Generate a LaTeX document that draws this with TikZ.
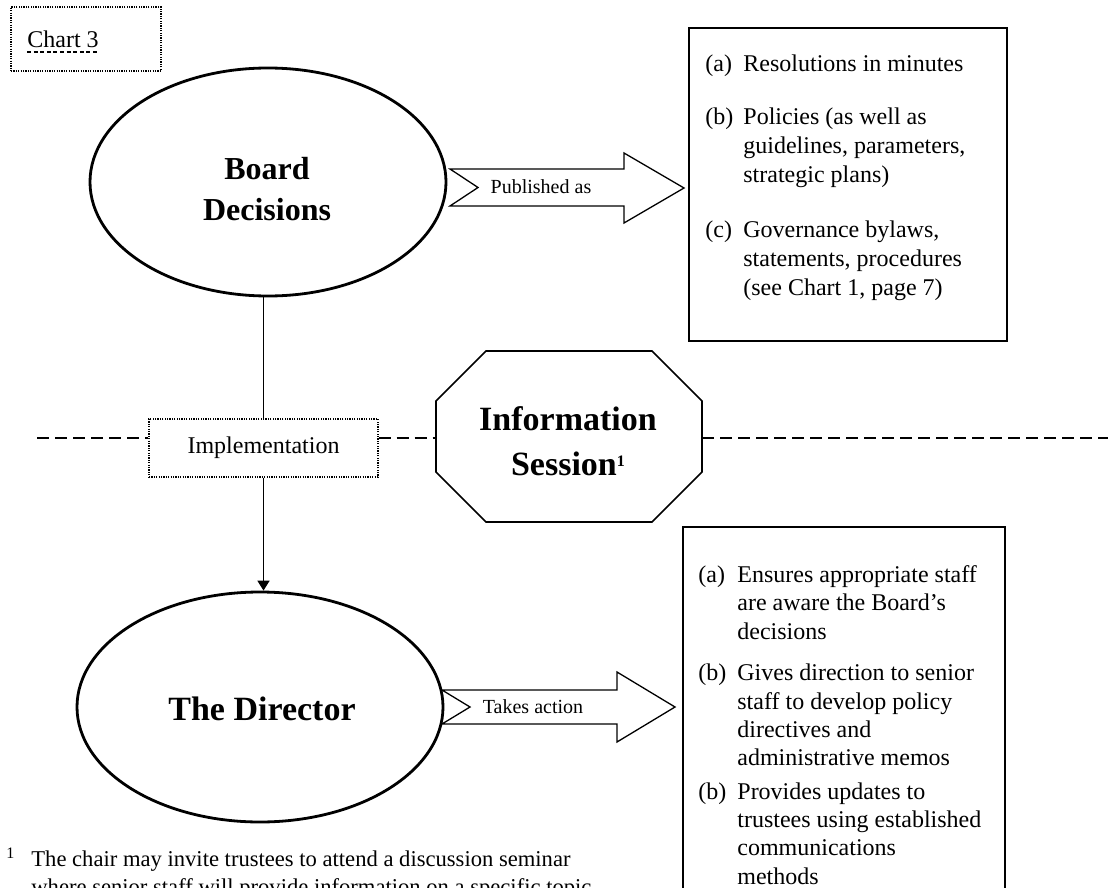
\documentclass[tikz,border=0pt]{standalone}
\usepackage{fontspec}
\setmainfont{Liberation Serif}
\usetikzlibrary{arrows.meta,shapes.geometric}
\begin{document}
\begin{tikzpicture}[x=0.5pt,y=-0.5pt,
  ell/.style={ellipse, draw, line width=1.4pt, inner sep=0pt},
  plainbox/.style={draw, line width=0.65pt, inner sep=0pt},
  dotbox/.style={draw, line width=0.6pt, dash pattern=on 0.6pt off 0.6pt, inner sep=0pt},
  blockarrow/.style={draw, line width=0.65pt, fill=white},
  octline/.style={draw, line width=0.8pt},
  dashline/.style={line width=1.2pt, dash pattern=on 6pt off 3pt},
  conn/.style={line width=0.9pt},
  title/.style={font=\fontsize{16}{20.5}\selectfont\bfseries, align=center, inner sep=0pt},
  bigtitle/.style={font=\fontsize{17}{22.5}\selectfont\bfseries, align=center, inner sep=0pt},
  small/.style={font=\fontsize{10}{12}\selectfont, inner sep=0pt},
  body/.style={font=\fontsize{12}{14}\selectfont, inner sep=0pt, anchor=base west},
  foot/.style={font=\fontsize{11.3}{14}\selectfont, inner sep=0pt, anchor=base west}
]
\useasboundingbox (0,0) rectangle (1108,888);
\clip (0,0) rectangle (1108,888);

% Chart 3 label
\node[dotbox, minimum width=75pt, minimum height=32pt] (chartbox) at (86,39) {};
\node[body] (charttxt) at (27,48) {Chart 3};
\draw[line width=0.6pt, dash pattern=on 2pt off 1.3pt] ([yshift=-2pt]charttxt.base west) -- ([yshift=-2pt]charttxt.base east);

% Board decisions
\node[ell, minimum width=178pt, minimum height=114pt] (board) at (268,182) {};
\node[title] (boardtxt) at (267,189) {Board\\Decisions};

% Published as arrow
\draw[blockarrow] (450,169) -- (624,169) -- (624,153) -- (684,188) -- (624,223) -- (624,206) -- (450,206) -- (478,187.5) -- cycle;
\node[small] (pubtxt) at (541,187) {Published as};

% Top right box
\node[plainbox, minimum width=159pt, minimum height=156.5pt] (pubbox) at (848,184.5) {};
\node[body] (pa) at (705,72) {(a)};
\node[body] (pa1) at (743,72) {Resolutions in minutes};
\node[body] (pb) at (705,125) {(b)};
\node[body] (pb1) at (743,125) {Policies (as well as};
\node[body] (pb2) at (743,154) {guidelines, parameters,};
\node[body] (pb3) at (743,183) {strategic plans)};
\node[body] (pc) at (705,237) {(c)};
\node[body] (pc1) at (743,237) {Governance bylaws,};
\node[body] (pc2) at (743,266) {statements, procedures};
\node[body] (pc3) at (743,295) {(see Chart 1, page 7)};

% Information session octagon
\draw[octline] (486,351) -- (652,351) -- (702,401) -- (702,472) -- (652,522) -- (486,522) -- (436,472) -- (436,401) -- cycle;
\coordinate (octL) at (436,438);
\coordinate (octR) at (702,438);
\node[bigtitle] (infotxt) at (568,441) {Information\\Session\raisebox{0.55ex}{\fontsize{8}{8}\selectfont 1}};

% Implementation
\node[dotbox, minimum width=114.5pt, minimum height=29pt, font=\fontsize{12}{14}\selectfont] (impl) at (263.5,448) {\raisebox{-1.5pt}{Implementation}};

% dashed line
\coordinate (dashL) at (37,438);
\coordinate (dashR) at (1112,438);
\draw[dashline] (dashL) -- (dashL -| impl.west);
\draw[dashline] (dashL -| impl.east) -- (octL);
\draw[dashline] (octR) -- (dashR);

% Director
\node[ell, minimum width=183pt, minimum height=115pt] (director) at (260,707) {};
\node[bigtitle] (dirtxt) at (262,709) {The Director};

% connectors
\draw[conn] (impl.north |- board.south) -- (impl.north);
\draw[conn, -{Triangle[length=5pt,width=6pt]}] (impl.south) -- (impl.south |- director.north);

% Takes action arrow
\draw[blockarrow] (442,690) -- (617,690) -- (617,672) -- (675,707) -- (617,742) -- (617,724) -- (442,724) -- (470,707) -- cycle;
\node[small] (acttxt) at (533,707) {Takes action};

% Lower right box
\node[plainbox, minimum width=161pt, minimum height=211.5pt] (actbox) at (844,738.5) {};
\node[body] (aa) at (698,582) {(a)};
\node[body] (aa1) at (737,582) {Ensures appropriate staff};
\node[body] (aa2) at (737,610) {are aware the Board’s};
\node[body] (aa3) at (737,639) {decisions};
\node[body] (ab) at (698,680) {(b)};
\node[body] (ab1) at (737,680) {Gives direction to senior};
\node[body] (ab2) at (737,709) {staff to develop policy};
\node[body] (ab3) at (737,737) {directives and};
\node[body] (ab4) at (737,765) {administrative memos};
\node[body] (ac) at (698,799) {(b)};
\node[body] (ac1) at (737,799) {Provides updates to};
\node[body] (ac2) at (737,827) {trustees using established};
\node[body] (ac3) at (737,855) {communications};
\node[body] (ac4) at (737,884) {methods};

% footnote
\node[foot, font=\fontsize{8}{8}\selectfont] (fnmark) at (6,858) {1};
\node[foot] (fn1) at (31,866) {The chair may invite trustees to attend a discussion seminar};
\node[foot] (fn2) at (31,894) {where senior staff will provide information on a specific topic};
\end{tikzpicture}
\end{document}
